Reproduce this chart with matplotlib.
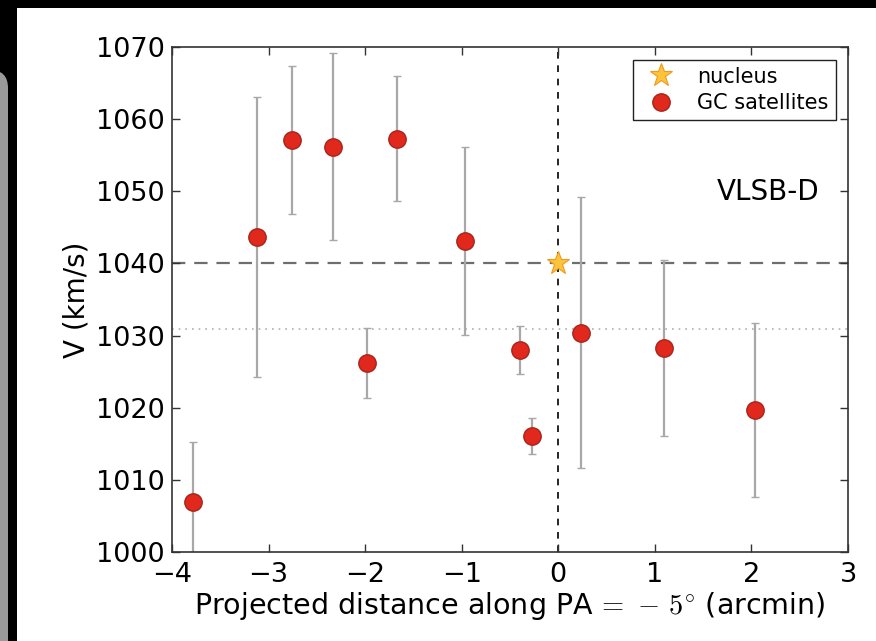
"""Velocity of GC satellites along the projected distance (VLSB-D)."""
import matplotlib
matplotlib.use("Agg")
import matplotlib.pyplot as plt
from matplotlib.patches import Rectangle, FancyBboxPatch
from matplotlib.transforms import IdentityTransform

# GC satellites: projected distance (arcmin), velocity (km/s), error (km/s)
gc_dist = [-3.78, -3.12, -2.76, -2.33, -1.67, -0.97, -1.98, -0.40, -0.27, 0.24, 1.09, 2.04]
gc_vel = [1006.9, 1043.7, 1057.1, 1056.2, 1057.3, 1043.1, 1026.2, 1028.0, 1016.1, 1030.4, 1028.3, 1019.7]
gc_err = [8.4, 19.4, 10.3, 12.9, 8.7, 13.0, 4.9, 3.3, 2.5, 18.8, 12.2, 12.1]

nucleus_dist = [0.0]
nucleus_vel = [1040.0]

v_nucleus = 1040.0
v_mean = 1030.9

x_ticks = [-4, -3, -2, -1, 0, 1, 2, 3]
y_ticks = [1000, 1010, 1020, 1030, 1040, 1050, 1060, 1070]

W, H = 876, 641


def main() -> None:
    plt.rcParams["font.family"] = ["DejaVu Sans"]
    plt.rcParams["mathtext.fontset"] = "cm"

    fig = plt.figure(figsize=(W / 100, H / 100), dpi=100, facecolor="black")

    # screenshot frame: white page on black, grey strip at the left edge
    fig.patches.append(Rectangle((17 / W, 0), 1, 1 - 8 / H, transform=fig.transFigure,
                                 facecolor="white", edgecolor="none", zorder=-2))
    fig.patches.append(FancyBboxPatch((-40, -40), 48, H - 70 + 40,
                                      boxstyle="round,pad=0,rounding_size=18",
                                      transform=IdentityTransform(),
                                      facecolor="#9a9a9a", edgecolor="none", zorder=-1))

    ax = fig.add_axes([172 / W, 1 - 552 / H, 676 / W, 505 / H])
    ax.set_facecolor("white")

    ax.axhline(v_nucleus, color="#6e6e6e", ls=(0, (6, 4)), lw=1.6, zorder=1)
    ax.axhline(v_mean, color="#b0b0b0", ls=(0, (1, 3)), lw=1.2, zorder=1)
    ax.axvline(0, color="black", ls=(0, (4, 4)), lw=1.2, zorder=1)

    ax.errorbar(gc_dist, gc_vel, yerr=gc_err, fmt="none", ecolor="#a8a8a8",
                elinewidth=1.6, capsize=3, capthick=1.0, zorder=2)
    ax.plot(nucleus_dist, nucleus_vel, ls="none", marker="*", ms=17,
            mfc="#fcc43c", mec="#f09a1c", mew=0.8, label="nucleus", zorder=4)
    ax.plot(gc_dist, gc_vel, ls="none", marker="o", ms=12.5,
            mfc="#e1281c", mec="#a8231a", mew=1.0, label="GC satellites", zorder=3)

    ax.set_xlim(-4, 3)
    ax.set_ylim(1000, 1070)
    ax.set_xticks(x_ticks)
    ax.set_yticks(y_ticks)
    ax.tick_params(direction="in", top=True, right=True, length=6, width=1,
                   labelsize=19.5, color="#333333")
    ax.tick_params(axis="x", pad=7)
    ax.tick_params(axis="y", pad=5)
    for sp in ax.spines.values():
        sp.set_linewidth(1.2)
        sp.set_color("#333333")

    ax.set_xlabel(r"Projected distance along PA$\,=\,-\,5^{\circ}$ (arcmin)", fontsize=20.5, labelpad=2)
    ax.set_ylabel("V (km/s)", fontsize=20, labelpad=4)

    ax.text(0.957, 0.713, "VLSB-D", transform=ax.transAxes, ha="right", va="center",
            fontsize=20)

    leg = ax.legend(loc="upper right", numpoints=1, fontsize=15, fancybox=False,
                    framealpha=1, edgecolor="#222222", borderaxespad=0.6,
                    handletextpad=0.7, borderpad=0.35, labelspacing=0.3)
    leg.get_frame().set_linewidth(1.0)

    fig.savefig("out.png", dpi=100, facecolor=fig.get_facecolor())
    plt.close(fig)


if __name__ == "__main__":
    main()
